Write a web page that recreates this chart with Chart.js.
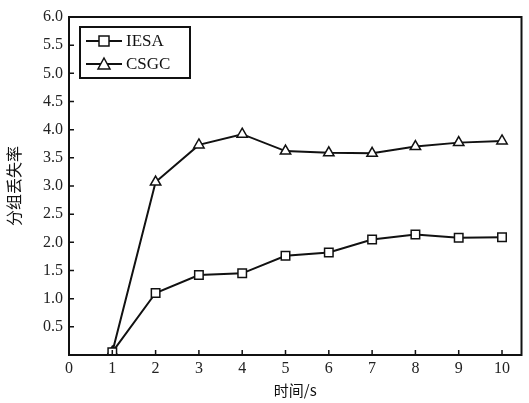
<!DOCTYPE html>
<html>
<head>
<meta charset="utf-8">
<script src="https://cdn.jsdelivr.net/npm/chart.js@4.4.0/dist/chart.umd.min.js"></script>
<style>
  html, body { margin: 0; padding: 0; background: #fff; }
  #wrap { width: 529px; height: 403px; }
</style>
</head>
<body>
<div id="wrap"><canvas id="c" width="529" height="403"></canvas></div>
<script>
// --- dados ---
const times = [1, 2, 3, 4, 5, 6, 7, 8, 9, 10];
const iesa = [0.05, 1.10, 1.42, 1.45, 1.76, 1.82, 2.05, 2.14, 2.08, 2.09];
const csgc = [0.05, 3.07, 3.73, 3.92, 3.62, 3.59, 3.58, 3.70, 3.77, 3.80];
const xTicks = [0, 1, 2, 3, 4, 5, 6, 7, 8, 9, 10];
const yTicks = [0.5, 1.0, 1.5, 2.0, 2.5, 3.0, 3.5, 4.0, 4.5, 5.0, 5.5, 6.0];
const seriesNames = ['IESA', 'CSGC'];

const serif = "'Liberation Serif', 'DejaVu Serif', serif";
const cjk = "'Noto Sans CJK SC', sans-serif";

// moldura + ticks para dentro + legenda com caixa
const framePlugin = {
    id: 'frame',
    afterDraw(chart) {
        const { ctx, chartArea: a, scales } = chart;
        ctx.save();
        ctx.strokeStyle = '#111';
        ctx.lineWidth = 2;
        ctx.strokeRect(a.left, a.top, a.right - a.left, a.bottom - a.top);

        ctx.lineWidth = 1.5;
        ctx.beginPath();
        xTicks.forEach(v => {
            const x = scales.x.getPixelForValue(v);
            ctx.moveTo(x, a.bottom); ctx.lineTo(x, a.bottom - 5);
        });
        yTicks.forEach(v => {
            const y = scales.y.getPixelForValue(v);
            ctx.moveTo(a.left, y); ctx.lineTo(a.left + 5, y);
        });
        ctx.stroke();

        // legenda
        const lx = a.left + 11, ly = a.top + 10, lw = 110, lh = 51;
        ctx.lineWidth = 2;
        ctx.strokeRect(lx, ly, lw, lh);
        ctx.font = '17px ' + serif;
        ctx.fillStyle = '#111';
        ctx.textBaseline = 'middle';
        chart.data.datasets.forEach((ds, i) => {
            const y = ly + 14 + i * 23;
            ctx.lineWidth = 2;
            ctx.beginPath();
            ctx.moveTo(lx + 6, y); ctx.lineTo(lx + 42, y);
            ctx.stroke();
            ctx.fillStyle = '#fff';
            ctx.lineWidth = 1.5;
            if (ds.pointStyle === 'rect') {
                ctx.fillRect(lx + 19, y - 5, 10, 10);
                ctx.strokeRect(lx + 19, y - 5, 10, 10);
            } else {
                ctx.beginPath();
                ctx.moveTo(lx + 24, y - 6);
                ctx.lineTo(lx + 30, y + 5);
                ctx.lineTo(lx + 18, y + 5);
                ctx.closePath();
                ctx.fill(); ctx.stroke();
            }
            ctx.fillStyle = '#111';
            ctx.fillText(ds.label, lx + 46, y + 1);
        });
        ctx.restore();
    }
};

const ctx = document.getElementById('c').getContext('2d');
new Chart(ctx, {
    type: 'line',
    data: {
        datasets: [
            {
                label: seriesNames[0],
                data: times.map((t, i) => ({ x: t, y: iesa[i] })),
                borderColor: '#111', borderWidth: 2,
                pointStyle: 'rect', pointRadius: 6, pointBorderWidth: 1.5,
                pointBackgroundColor: '#fff', pointBorderColor: '#111'
            },
            {
                label: seriesNames[1],
                data: times.map((t, i) => ({ x: t, y: csgc[i] })),
                borderColor: '#111', borderWidth: 2,
                pointStyle: 'triangle', pointRadius: 6, pointBorderWidth: 1.5,
                pointBackgroundColor: '#fff', pointBorderColor: '#111'
            }
        ]
    },
    options: {
        responsive: false,
        animation: false,
        layout: { padding: { top: 17, right: 3, left: 0, bottom: 0 } },
        plugins: { legend: { display: false }, tooltip: { enabled: false } },
        scales: {
            x: {
                type: 'linear', min: 0, max: 10.45,
                afterBuildTicks: s => { s.ticks = xTicks.map(v => ({ value: v })); },
                afterFit: s => { s.height = 48; s.paddingLeft = 0; s.paddingRight = 0; },
                grid: { display: false, drawTicks: false },
                border: { display: false },
                ticks: { color: '#222', padding: 4, font: { family: serif, size: 16 }, maxRotation: 0 },
                title: { display: true, text: '时间/s', color: '#111', padding: { top: 0 }, font: { family: cjk, size: 15 } }
            },
            y: {
                min: 0, max: 6,
                afterBuildTicks: s => { s.ticks = yTicks.map(v => ({ value: v })); },
                afterFit: s => { s.width = 69; s.paddingTop = 0; s.paddingBottom = 0; },
                grid: { display: false, drawTicks: false },
                border: { display: false },
                ticks: { color: '#222', padding: 6, font: { family: serif, size: 16 }, callback: v => Number(v).toFixed(1) },
                title: { display: true, text: '分组丢失率', color: '#111', padding: { bottom: 2 }, font: { family: cjk, size: 16 } }
            }
        }
    },
    plugins: [framePlugin]
});
</script>
</body>
</html>
